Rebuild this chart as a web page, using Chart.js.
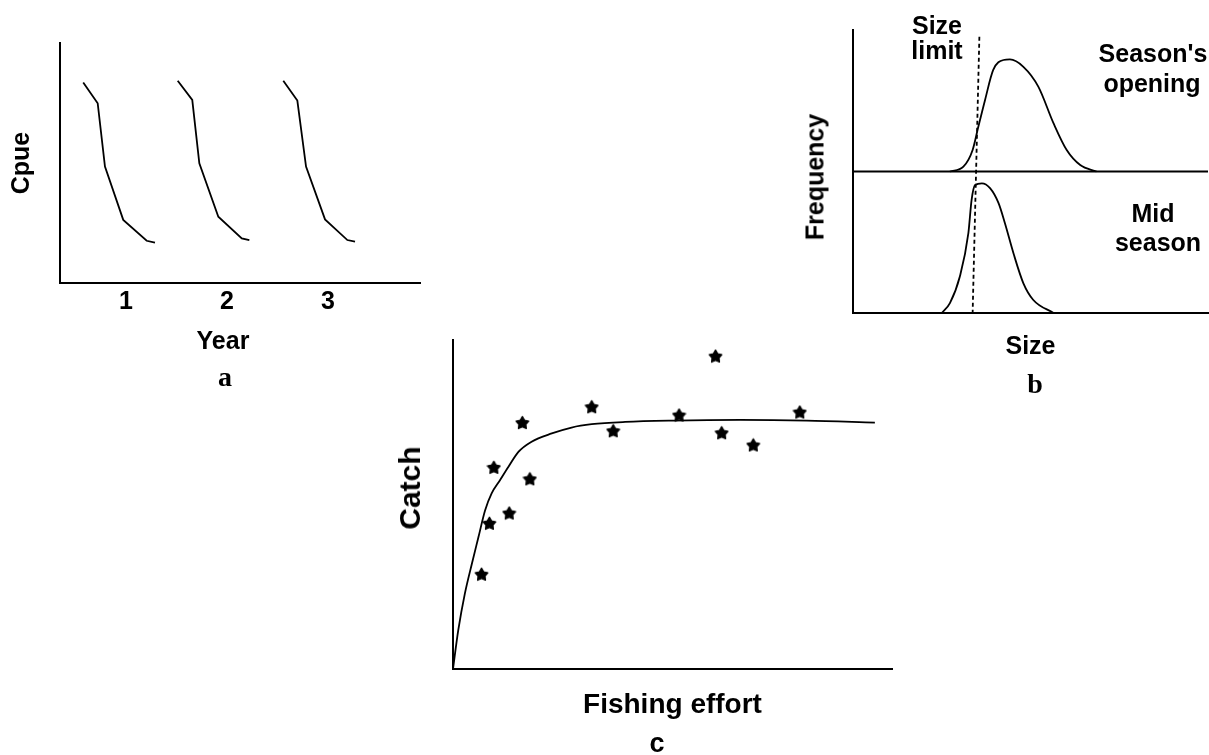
<!DOCTYPE html>
<html>
<head>
<meta charset="utf-8">
<script src="https://cdn.jsdelivr.net/npm/chart.js@4"></script>
<style>
  html, body { margin: 0; padding: 0; background: #fff; }
  body { width: 1209px; height: 755px; position: relative; overflow: hidden; font-family: "Liberation Sans", Arial, sans-serif; }
  canvas { position: absolute; }
  .lbl { position: absolute; transform: translate(-50%, -50%); white-space: nowrap; color: #000; font-weight: bold; font-family: "Liberation Sans", Arial, sans-serif; font-size: 25px; line-height: 1; text-align: center; }
  .rot { transform: translate(-50%, -50%) rotate(-90deg); }
  .serif { font-family: "Liberation Serif", "Times New Roman", serif; font-size: 28px; }
</style>
</head>
<body>
<canvas id="ca" width="440" height="400" style="left:0;top:0"></canvas>
<canvas id="cb" width="419" height="400" style="left:790px;top:0"></canvas>
<canvas id="cc" width="530" height="425" style="left:380px;top:330px"></canvas>

<div class="lbl" style="left:223px;top:340px">Year</div>
<div class="lbl rot" style="left:815px;top:177px">Frequency</div>
<div class="lbl rot" style="left:410px;top:488px;font-size:30px">Catch</div>
<div class="lbl" style="left:937px;top:25px">Size</div>
<div class="lbl" style="left:937px;top:50px">limit</div>
<div class="lbl" style="left:1153px;top:53px">Season's</div>
<div class="lbl" style="left:1152px;top:83px">opening</div>
<div class="lbl" style="left:1153px;top:213px">Mid</div>
<div class="lbl" style="left:1158px;top:242px">season</div>
<div class="lbl serif" style="left:225px;top:377px">a</div>
<div class="lbl serif" style="left:1035px;top:384px">b</div>
<div class="lbl" style="left:657px;top:743px;font-size:27px">c</div>

<script>
// ---------- Panel a: Cpue vs Year ----------
const yearTicks = [1, 2, 3];
const year1X = [0.577, 0.720, 0.792, 0.973, 1.205, 1.287];
const year1Cpue = [8.35, 7.49, 4.85, 2.63, 1.76, 1.68];
const year2X = [1.512, 1.656, 1.726, 1.914, 2.146, 2.221];
const year2Cpue = [8.43, 7.63, 4.99, 2.76, 1.86, 1.79];
const year3X = [2.557, 2.696, 2.782, 2.970, 3.191, 3.267];
const year3Cpue = [8.43, 7.60, 4.85, 2.65, 1.79, 1.72];

// ---------- Panel b: size frequency ----------
const openingSize = [27.3, 31.1, 33.7, 35.3, 37.2, 39.5, 42.4, 44.2, 48.0, 52.2, 56.5, 60.2, 64.0, 68.6];
const openingFreq = [50.0, 51.7, 57.6, 65.8, 75.3, 85.9, 89.4, 89.6, 87.0, 80.0, 67.0, 57.6, 52.3, 50.0];
const midSize = [25.0, 27.3, 30.1, 32.5, 33.4, 34.4, 36.3, 38.6, 41.0, 42.8, 45.2, 48.0, 50.8, 56.5];
const midFreq = [0, 3.5, 12.9, 28.2, 39.9, 45.2, 45.8, 44.1, 38.8, 31.7, 21.1, 10.5, 4.6, 0];
const openingBaseline = 50;
const sizeLimitX = [35.6, 33.7];
const sizeLimitY = [97.6, 0];

// ---------- Panel c: catch vs effort ----------
const curveEffort = [0, 1.2, 2.7, 4.3, 5.8, 7.3, 8.8, 10.7, 12.6, 14.9, 17.9, 22.5, 27.0, 31.6, 39.2, 50.2, 65.4, 80.6, 96.1];
const curveCatch = [0, 11.8, 22.9, 32.0, 40.1, 48.2, 53.4, 57.4, 61.4, 66.0, 69.1, 71.6, 73.4, 74.4, 75.1, 75.5, 75.7, 75.5, 74.9];
const obsEffort = [6.5, 8.3, 9.3, 12.8, 15.8, 17.5, 31.6, 36.5, 51.5, 59.8, 61.2, 68.4, 79.0];
const obsCatch = [28.8, 44.3, 61.3, 47.4, 74.9, 57.8, 79.7, 72.4, 77.2, 95.1, 71.8, 68.1, 78.1];

const pts = (xs, ys) => xs.map((x, i) => ({ x, y: ys[i] }));
const FONT = "'Liberation Sans', Arial, sans-serif";

function axis(opts) {
  return Object.assign({
    type: 'linear',
    grid: { display: false, drawTicks: false },
    border: { display: true, color: '#000', width: 2 },
    ticks: { display: false },
  }, opts);
}

function lineDs(data, extra) {
  return Object.assign({
    data, showLine: true, borderColor: '#000', borderWidth: 1.8,
    pointRadius: 0, fill: false, tension: 0
  }, extra || {});
}

const common = {
  responsive: false,
  animation: false,
  devicePixelRatio: 1,
  events: [],
  plugins: { legend: { display: false }, tooltip: { enabled: false } }
};

// Panel a
new Chart(document.getElementById('ca'), {
  type: 'scatter',
  data: {
    datasets: [
      lineDs(pts(year1X, year1Cpue)),
      lineDs(pts(year2X, year2Cpue)),
      lineDs(pts(year3X, year3Cpue))
    ]
  },
  options: Object.assign({}, common, {
    layout: { padding: { left: 0, top: 43, right: 20, bottom: 0 } },
    scales: {
      x: axis({
        min: 0.347, max: 3.91,
        afterFit: s => { s.height = 117; },
        afterBuildTicks: s => { s.ticks = yearTicks.map(v => ({ value: v })); },
        ticks: { display: true, padding: 4, color: '#000', font: { family: FONT, size: 25, weight: 'bold' }, callback: v => String(v) }
      }),
      y: axis({
        min: 0, max: 10,
        afterFit: s => { s.width = 60; },
        title: { display: true, text: 'Cpue', color: '#000', font: { family: FONT, size: 25, weight: 'bold' }, padding: { top: 7, bottom: 0 } }
      })
    }
  })
});

// Panel b
new Chart(document.getElementById('cb'), {
  type: 'scatter',
  data: {
    datasets: [
      lineDs([{ x: 0, y: openingBaseline }, { x: 100, y: openingBaseline }]),
      lineDs(pts(openingSize, openingFreq), { cubicInterpolationMode: 'monotone' }),
      lineDs(pts(midSize, midFreq), { cubicInterpolationMode: 'monotone' }),
      lineDs(pts(sizeLimitX, sizeLimitY), { borderDash: [4, 3], borderWidth: 1.8 })
    ]
  },
  options: Object.assign({}, common, {
    layout: { padding: { left: 0, top: 30, right: 1, bottom: 0 } },
    scales: {
      x: axis({
        min: 0, max: 100,
        afterFit: s => { s.height = 87; },
        title: { display: true, text: 'Size', color: '#000', font: { family: FONT, size: 25, weight: 'bold' }, padding: { top: 0, bottom: 38 } }
      }),
      y: axis({
        min: 0, max: 100,
        afterFit: s => { s.width = 63; }
      })
    }
  })
});

// Panel c
function makeStar(size) {
  const c = document.createElement('canvas');
  c.width = c.height = size;
  const g = c.getContext('2d');
  g.fillStyle = '#000';
  g.strokeStyle = '#000';
  g.lineJoin = 'round';
  g.lineWidth = 1.2;
  g.beginPath();
  const cx = size / 2, cy = size / 2 + 0.6, R = size / 2 - 0.8, r = R * 0.55;
  for (let i = 0; i < 10; i++) {
    const a = -Math.PI / 2 + i * Math.PI / 5;
    const rad = i % 2 ? r : R;
    g.lineTo(cx + rad * Math.cos(a), cy + rad * Math.sin(a));
  }
  g.closePath();
  g.fill();
  g.stroke();
  return c;
}
const star = makeStar(15);

new Chart(document.getElementById('cc'), {
  type: 'scatter',
  data: {
    datasets: [
      lineDs(pts(curveEffort, curveCatch), { cubicInterpolationMode: 'monotone' }),
      { data: pts(obsEffort, obsCatch), showLine: false, pointStyle: star, pointRadius: 7, borderColor: '#000', backgroundColor: '#000' }
    ]
  },
  options: Object.assign({}, common, {
    layout: { padding: { left: 0, top: 10, right: 18, bottom: 0 } },
    scales: {
      x: axis({
        min: 0, max: 100,
        afterFit: s => { s.height = 86; },
        title: { display: true, text: 'Fishing effort', color: '#000', font: { family: FONT, size: 28, weight: 'bold' }, padding: { top: 0, bottom: 33 } }
      }),
      y: axis({
        min: 0, max: 100,
        afterFit: s => { s.width = 73; }
      })
    }
  })
});
</script>
</body>
</html>
